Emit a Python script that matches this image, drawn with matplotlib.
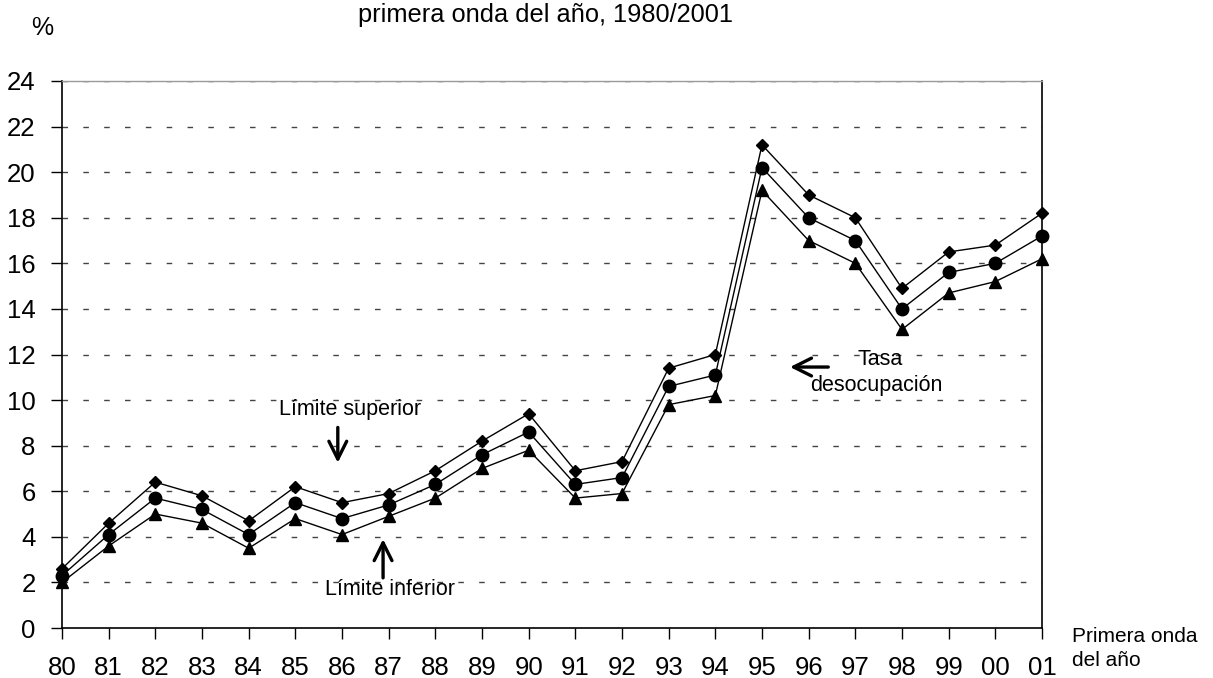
import matplotlib
matplotlib.use("Agg")
import matplotlib.pyplot as plt

plt.rcParams['font.family'] = ['Liberation Sans', 'DejaVu Sans']

years = ["80", "81", "82", "83", "84", "85", "86", "87", "88", "89", "90",
         "91", "92", "93", "94", "95", "96", "97", "98", "99", "00", "01"]
upper = [2.6, 4.6, 6.4, 5.8, 4.7, 6.2, 5.5, 5.9, 6.9, 8.2, 9.4,
         6.9, 7.3, 11.4, 12.0, 21.2, 19.0, 18.0, 14.9, 16.5, 16.8, 18.2]
rate = [2.3, 4.1, 5.7, 5.2, 4.1, 5.5, 4.8, 5.4, 6.3, 7.6, 8.6,
        6.3, 6.6, 10.6, 11.1, 20.2, 18.0, 17.0, 14.0, 15.6, 16.0, 17.2]
lower = [2.0, 3.6, 5.0, 4.6, 3.5, 4.8, 4.1, 4.9, 5.7, 7.0, 7.8,
         5.7, 5.9, 9.8, 10.2, 19.2, 17.0, 16.0, 13.1, 14.7, 15.2, 16.2]
yticks = list(range(0, 25, 2))

fig = plt.figure(figsize=(12.13, 6.78), dpi=100)
ax = fig.add_axes([62/1213, 50/678, 980/1213, 547/678])

x = list(range(len(years)))
ax.plot(x, upper, color='black', lw=1, marker='D', ms=6.5, clip_on=False, zorder=3)
ax.plot(x, rate, color='black', lw=1, marker='o', ms=9, clip_on=False, zorder=3)
ax.plot(x, lower, color='black', lw=1, marker='^', ms=9, clip_on=False, zorder=3)

ax.set_xlim(0, len(years) - 1)
ax.set_ylim(0, 24)
ax.set_xticks(x)
ax.set_xticklabels(years, fontsize=18.5)
ax.set_yticks(yticks)
ax.set_yticklabels([str(v) for v in yticks], fontsize=18.5)
ax.tick_params(axis='x', direction='out', length=8, width=1, pad=12)
ax.tick_params(axis='y', direction='out', length=8, width=1, pad=11)

for v in yticks[1:]:
    ax.axhline(v, color='#444444', lw=1, linestyle=(0, (4, 11)), zorder=1)

ax.spines['top'].set_color('#9a9a9a')
ax.spines['top'].set_linewidth(1)
for s in ['left', 'right', 'bottom']:
    ax.spines[s].set_linewidth(1.2)
    ax.spines[s].set_color('black')

arrow = dict(arrowstyle='->', lw=2.4, color='black',
             mutation_scale=32, shrinkA=0, shrinkB=0)

# annotations
ax.text(6.17, 9.57, "Límite superior", ha='center', va='center', fontsize=15.5)
ax.annotate("", xy=(5.91, 7.25), xytext=(5.91, 8.8), arrowprops=arrow)
ax.text(7.03, 1.67, "Límite inferior", ha='center', va='center', fontsize=15.5)
ax.annotate("", xy=(6.88, 3.9), xytext=(6.88, 2.2), arrowprops=arrow)
ax.text(17.53, 11.76, "Tasa", ha='center', va='center', fontsize=15.5)
ax.text(17.46, 10.62, "desocupación", ha='center', va='center', fontsize=15.5)
ax.annotate("", xy=(15.6, 11.45), xytext=(16.42, 11.45), arrowprops=arrow)

fig.text(1072/1213, 1 - 636/678, "Primera onda", ha='left', va='center', fontsize=15)
fig.text(1072/1213, 1 - 661/678, "del año", ha='left', va='center', fontsize=15)

fig.text(42/1213, 1 - 28/678, "%", ha='center', va='center', fontsize=18)
fig.text(546/1213, 1 - 22/678, "primera onda del año, 1980/2001",
         ha='center', va='baseline', fontsize=18.3)

fig.savefig("out.png", dpi=100, facecolor='white')
